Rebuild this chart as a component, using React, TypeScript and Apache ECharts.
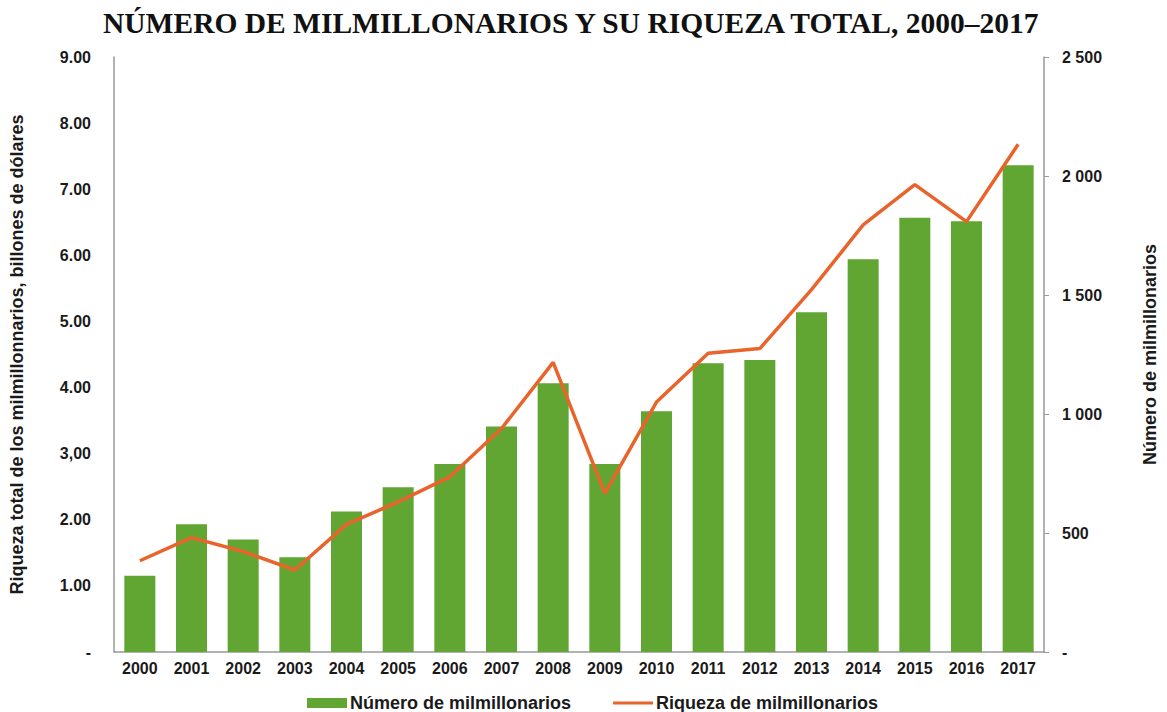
import React, { useEffect, useRef } from "react";
import * as echarts from "echarts";

const years = ["2000","2001","2002","2003","2004","2005","2006","2007","2008","2009","2010","2011","2012","2013","2014","2015","2016","2017"];
const billionaires = [320, 537, 473, 398, 590, 692, 790, 947, 1129, 790, 1012, 1213, 1227, 1427, 1650, 1825, 1810, 2045];
const wealth = [1.38, 1.73, 1.52, 1.24, 1.93, 2.27, 2.65, 3.38, 4.38, 2.40, 3.78, 4.52, 4.59, 5.48, 6.46, 7.07, 6.51, 7.68];
const leftTickLabels = ["-", "1.00", "2.00", "3,00", "4.00", "5.00", "6.00", "7.00", "8.00", "9.00"];
const rightTickLabels = ["-", "500", "1 000", "1 500", "2 000", "2 500"];

const titleText = "NÚMERO DE MILMILLONARIOS Y SU RIQUEZA TOTAL, 2000–2017";
const leftName = "Riqueza total de los milmillonnarios, billones de dólares";
const rightName = "Número de milmillonarios";
const barName = "Número de milmillonarios";
const lineName = "Riqueza de milmillonarios";

const FONT = "'Liberation Sans', Arial, sans-serif";

export default function App() {
  const ref = useRef<HTMLDivElement>(null);
  useEffect(() => {
    document.body.style.margin = "0";
    if (!ref.current) return;
    const chart = echarts.init(ref.current, undefined, { renderer: "svg" });
    const labelStyle = { color: "#1a1a1a", fontFamily: FONT, fontWeight: "bold" as const, fontSize: 16 };
    chart.setOption({
      animation: false,
      backgroundColor: "#ffffff",
      title: {
        text: titleText,
        left: 103,
        top: 8,
        padding: 0,
        textStyle: { fontFamily: "'Liberation Serif', 'Times New Roman', serif", fontWeight: "bold", fontSize: 29.5, color: "#111" },
      },
      legend: {
        bottom: 0,
        left: 307,
        padding: 0,
        itemGap: 42,
        itemWidth: 40,
        itemHeight: 10,
        textStyle: { ...labelStyle, fontSize: 18, padding: [0, 0, 0, -2] },
        data: [
          { name: barName, icon: "rect" },
          { name: lineName, icon: "path://M0,0 L40,0 L40,3 L0,3 Z", itemStyle: { color: "#e8642b" } },
        ],
      },
      grid: { left: 108, right: 112, top: 57, bottom: 60, containLabel: false },
      xAxis: {
        type: "category",
        data: years,
        axisLine: { lineStyle: { color: "#999999", width: 1.5 } },
        axisTick: { show: false },
        axisLabel: { ...labelStyle, interval: 0, margin: 8 },
      },
      yAxis: [
        {
          type: "value",
          min: 0,
          max: 9,
          interval: 1,
          position: "left",
          name: leftName,
          nameLocation: "middle",
          nameGap: 88,
          nameTextStyle: { ...labelStyle, fontSize: 18 },
          axisLine: { show: true, lineStyle: { color: "#999999", width: 1.5 } },
          axisTick: { show: false },
          splitLine: { show: false },
          axisLabel: { ...labelStyle, margin: 23, formatter: (v: number) => leftTickLabels[Math.round(v)] ?? "" },
        },
        {
          type: "value",
          min: 0,
          max: 2500,
          interval: 500,
          position: "right",
          name: rightName,
          nameLocation: "middle",
          nameGap: 97,
          nameRotate: 90,
          nameTextStyle: { ...labelStyle, fontSize: 18 },
          axisLine: { show: true, lineStyle: { color: "#999999", width: 1.5 } },
          axisTick: { show: true, inside: false, length: 5, lineStyle: { color: "#999999" } },
          splitLine: { show: false },
          axisLabel: { ...labelStyle, margin: 18, formatter: (v: number) => rightTickLabels[Math.round(v / 500)] ?? "" },
        },
      ],
      series: [
        {
          name: barName,
          type: "bar",
          yAxisIndex: 1,
          data: billionaires,
          barWidth: "60%",
          itemStyle: { color: "#61a533" },
        },
        {
          name: lineName,
          type: "line",
          yAxisIndex: 0,
          data: wealth,
          symbol: "none",
          lineStyle: { color: "#e8642b", width: 3.5 },
          itemStyle: { color: "#e8642b" },
        },
      ],
    });
    return () => chart.dispose();
  }, []);
  return <div ref={ref} style={{ width: 1167, height: 712 }} />;
}
